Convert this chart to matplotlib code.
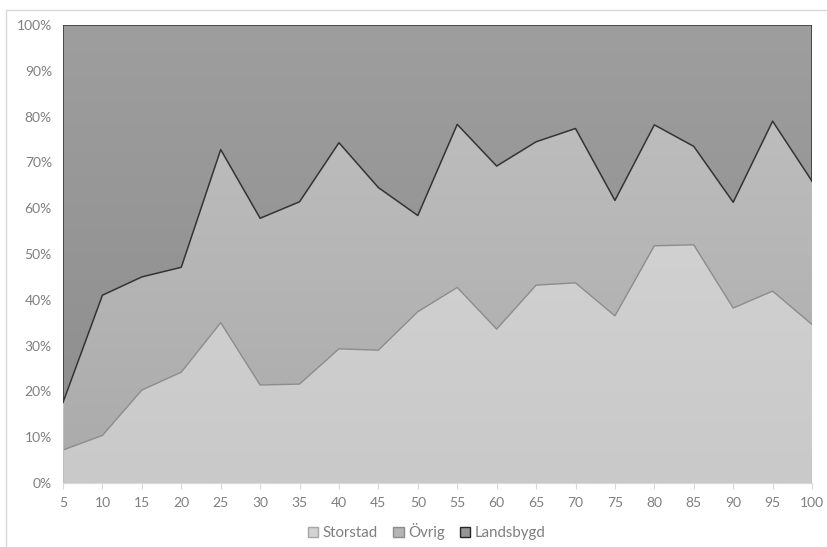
import numpy as np
import matplotlib.pyplot as plt
from matplotlib.patches import Patch, Rectangle
from matplotlib.colors import LinearSegmentedColormap

# x categories
x = [5, 10, 15, 20, 25, 30, 35, 40, 45, 50, 55, 60, 65, 70, 75, 80, 85, 90, 95, 100]

# shares in percent
storstad = [7.2, 10.4, 20.3, 24.2, 35.0, 21.4, 21.6, 29.3, 29.0, 37.4,
            42.7, 33.6, 43.2, 43.7, 36.5, 51.8, 52.0, 38.2, 41.9, 34.6]
ovrig_top = [17.6, 41.0, 45.0, 47.1, 72.8, 57.8, 61.4, 74.3, 64.5, 58.4,
             78.3, 69.2, 74.5, 77.4, 61.7, 78.2, 73.5, 61.3, 79.0, 65.9]
ovrig = [t - s for t, s in zip(ovrig_top, storstad)]
landsbygd = [100 - t for t in ovrig_top]

series = ['Storstad', 'Övrig', 'Landsbygd']

plt.rcParams['font.family'] = ['Lato', 'DejaVu Sans']

fig = plt.figure(figsize=(8.27, 5.47), dpi=100)
ax = fig.add_axes([0.0762, 0.117, 0.9057, 0.8373])

lower = np.zeros(len(x))
bands = []
for vals in [storstad, ovrig, landsbygd]:
    upper = lower + np.array(vals)
    bands.append((lower.copy(), upper))
    lower = upper

# (top colour, bottom colour) of the vertical gradient in each band
grads = [('#d8d8d8', '#c9c9c9'), ('#c2c2c2', '#aaaaaa'), ('#9e9e9e', '#8c8c8c')]

for (lo, up), (ctop, cbot) in zip(bands, grads):
    poly = ax.fill_between(x, lo, up, facecolor='none', edgecolor='none')
    cmap = LinearSegmentedColormap.from_list('g', [cbot, ctop])
    grad = np.linspace(0, 1, 256).reshape(-1, 1)
    im = ax.imshow(grad, cmap=cmap, aspect='auto', origin='lower',
                   extent=[x[0], x[-1], 0, 100], zorder=1)
    im.set_clip_path(poly.get_paths()[0], transform=ax.transData)

# outlines
ax.plot(x, bands[0][1], color='#8c8c8c', lw=1.0, zorder=3)
ax.plot(x, bands[1][1], color='#333333', lw=1.1, zorder=4)
ax.plot([x[0], x[-1]], [100, 100], color='#333333', lw=1.1, zorder=4)
ax.plot([x[0], x[0]], [bands[1][1][0], 100], color='#333333', lw=1.1, zorder=4)
ax.plot([x[-1], x[-1]], [bands[1][1][-1], 100], color='#333333', lw=1.1, zorder=4)
ax.plot([x[0], x[0]], [0, bands[1][1][0]], color='#bdbdbd', lw=0.8, zorder=3)
ax.plot([x[-1], x[-1]], [0, bands[1][1][-1]], color='#bdbdbd', lw=0.8, zorder=3)

ax.set_xlim(x[0], x[-1])
ax.set_ylim(0, 100)
ax.set_xticks(x)
ax.set_yticks(range(0, 101, 10))
ax.set_yticklabels([f'{v}%' for v in range(0, 101, 10)])

for s in ['top', 'right', 'left']:
    ax.spines[s].set_visible(False)
ax.spines['bottom'].set_color('#d9d9d9')
ax.spines['bottom'].set_zorder(5)
ax.tick_params(axis='x', colors='#d9d9d9', labelcolor='#7f7f7f', length=4,
               labelsize=10, pad=6)
ax.tick_params(axis='y', length=0, labelcolor='#7f7f7f', labelsize=10, pad=8)

handles = [Patch(facecolor='#d2d2d2', edgecolor='#a6a6a6', label=series[0]),
           Patch(facecolor='#b5b5b5', edgecolor='#8c8c8c', label=series[1]),
           Patch(facecolor='#959595', edgecolor='#262626', label=series[2])]
leg = fig.legend(handles=handles, loc='center', bbox_to_anchor=(0.516, 0.028),
                 ncol=3, frameon=False, fontsize=10.8, handlelength=0.7,
                 handleheight=0.7, handletextpad=0.3, columnspacing=1.0)
for t in leg.get_texts():
    t.set_color('#7f7f7f')

# chart frame
fig.patches.append(Rectangle((6 / 827, -0.01), 1.0, 1 - 10 / 547 + 0.01,
                             transform=fig.transFigure, fill=False,
                             edgecolor='#d9d9d9', lw=1.0))

fig.savefig('out.png', dpi=100)
